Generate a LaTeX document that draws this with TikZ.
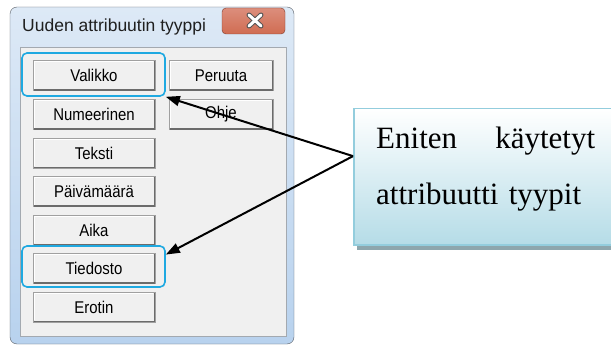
\documentclass[tikz,border=0pt]{standalone}
\usepackage{fontspec}
\setmainfont{Liberation Serif}
\newfontfamily\dlgfont[FakeStretch=0.88]{Liberation Sans}
\newfontfamily\titlefont{Liberation Sans}
\usetikzlibrary{arrows.meta,calc}

\definecolor{framebluetop}{HTML}{DDE9F6}
\definecolor{frameblue}{HTML}{B8D2EE}
\definecolor{frameedge}{HTML}{5A5F66}
\definecolor{paneltone}{HTML}{F0F0F0}
\definecolor{paneledge}{HTML}{A3A9B0}
\definecolor{btnedge}{HTML}{A0A0A0}
\definecolor{btnshade}{HTML}{6B6B6B}
\definecolor{hilite}{HTML}{1FA9E1}
\definecolor{callfill}{HTML}{B5DCE7}
\definecolor{callline}{HTML}{93CDDD}
\definecolor{callshadow}{HTML}{8DA6AD}
\definecolor{closetop}{HTML}{DC8E7C}
\definecolor{closemid}{HTML}{C23E23}
\definecolor{closebot}{HTML}{D06C52}
\definecolor{closeedge}{HTML}{7E3A2C}

\begin{document}
\begin{tikzpicture}[x=1pt,y=-1pt,
  button/.style={draw=btnedge, fill=paneltone, minimum height=30pt, inner sep=0pt,
    font=\dlgfont\fontsize{17}{18}\selectfont},
  leftbtn/.style={button, minimum width=122pt},
  rightbtn/.style={button, minimum width=104pt},
  hilitebox/.style={draw=hilite, line width=1.6pt, rounded corners=5pt, inner sep=0pt},
  callout/.style={draw=callline, line width=1.5pt, top color=white, bottom color=callfill,
    inner sep=0pt},
  pointer/.style={line width=2pt, -{Triangle[length=14pt,width=10pt]}}
]
\useasboundingbox (0,0) rectangle (611,345);
\clip (0,0) rectangle (611,345);

% window frame and client area
\shade[top color=framebluetop, bottom color=frameblue, draw=frameedge, rounded corners=7pt]
  (10,7) rectangle (294,344);
\draw[draw=paneledge, fill=paneltone] (20,47) rectangle (286,336);

% close button
\shade[top color=closetop, middle color=closemid, bottom color=closebot,
  draw=closeedge, rounded corners=4pt] (222,8) rectangle (285,34);
\draw[line width=5pt, color=gray!65!black, line cap=round]
  (249,15) -- (261,26) (261,15) -- (249,26);
\draw[line width=3pt, color=white, line cap=round]
  (249,15) -- (261,26) (261,15) -- (249,26);

% title
\node[anchor=base west, inner sep=0pt, text=black!88,
  font=\titlefont\fontsize{17.5}{20}\selectfont] (title) at (22,32) {Uuden attribuutin tyyppi};

% buttons
\foreach \n/\t/\y in {valikko/Valikko/75.5, numeerinen/Numeerinen/114.5, teksti/Teksti/153,
    paivamaara/Päivämäärä/191.5, aika/Aika/230, tiedosto/Tiedosto/268.5, erotin/Erotin/307}
  \node[leftbtn] (\n) at (94,\y) {\t};
\node[rightbtn] (peruuta) at (221,75.5) {Peruuta};
\node[rightbtn] (ohje) at (221,114.5) {Ohje};

% raised look of the buttons
\foreach \n in {valikko,numeerinen,teksti,paivamaara,aika,tiedosto,erotin,peruuta,ohje}{
  \draw[white, line width=1pt]
    ($(\n.south west)+(1.2,-2)$) -- ($(\n.north west)+(1.2,1.2)$) -- ($(\n.north east)+(-2,1.2)$);
  \draw[btnshade, line width=1.5pt]
    ($(\n.south west)+(1,-0.9)$) -- ($(\n.south east)+(-0.9,-0.9)$) -- ($(\n.north east)+(-0.9,1)$);
}

% highlight rings
\node[hilitebox, minimum width=143pt, minimum height=43pt] (valikkoring) at (93.5,74.5) {};
\node[hilitebox, minimum width=143pt, minimum height=41pt] (tiedostoring) at (93.5,266.5) {};

% callout box
\fill[callshadow] (357,112) rectangle (625,250);
\node[callout, anchor=north west, minimum width=270pt, minimum height=136pt] (callout)
  at (353,108) {};
\node[anchor=base west, inner sep=0pt, text width=219pt, align=left,
  font=\fontsize{31}{57}\selectfont] (calltext) at (376,148)
  {Eniten\hfill käytetyt\\attribuutti tyypit};

% pointers
\coordinate (hub) at ($(callout.north west)!0.35!(callout.south west)$);
\draw[pointer] (hub) -- (valikkoring.south east);
\draw[pointer] (hub) -- ($(tiedostoring.north east)!0.22!(tiedostoring.south east)$);
\end{tikzpicture}
\end{document}
